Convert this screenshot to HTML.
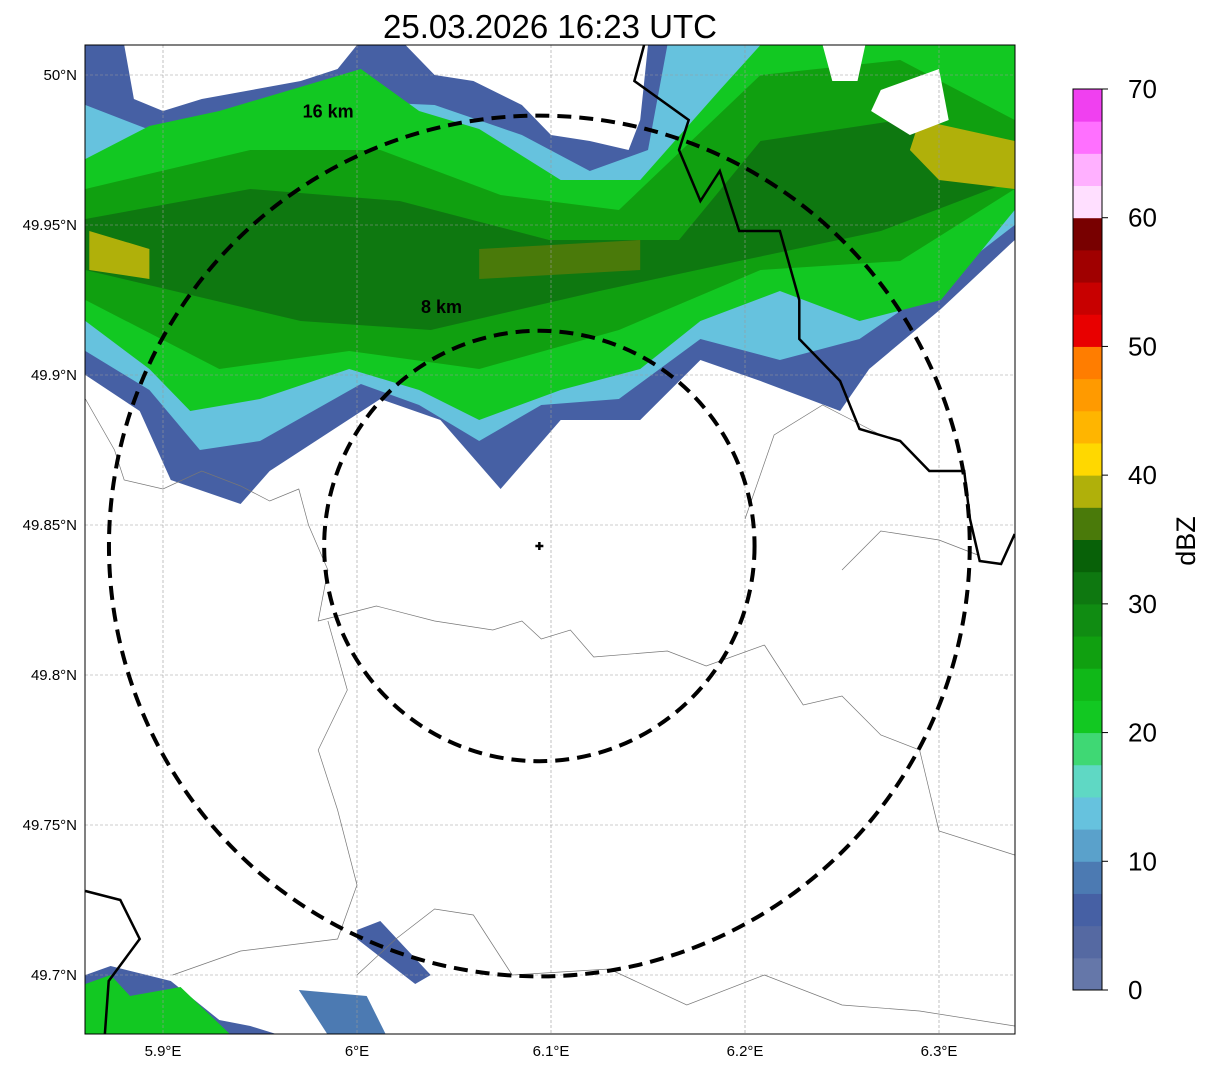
<!DOCTYPE html>
<html><head><meta charset="utf-8"><style>
body{margin:0;background:#fff;font-family:"Liberation Sans",sans-serif}
svg text{font-family:"Liberation Sans",sans-serif}
</style></head><body>
<svg id="s" width="1207" height="1069" xmlns="http://www.w3.org/2000/svg">
<defs><clipPath id="mc"><rect x="85" y="45" width="930" height="989"/></clipPath></defs>
<text x="550" y="38" font-size="33" text-anchor="middle">25.03.2026 16:23 UTC</text>
<g id="map" clip-path="url(#mc)"></g>
<rect x="85" y="45" width="930" height="989" fill="none" stroke="#000" stroke-width="1"/>
<g id="axes"></g>
<g id="cbar"></g>
<text transform="translate(1195,541) rotate(-90)" font-size="27" text-anchor="middle">dBZ</text>
</svg>
<script>
const lonTicks=[5.9,6.0,6.1,6.2,6.3];
const lonLabels=["5.9°E","6°E","6.1°E","6.2°E","6.3°E"];
const latTicks=[50.0,49.95,49.9,49.85,49.8,49.75,49.7];
const latLabels=["50°N","49.95°N","49.9°N","49.85°N","49.8°N","49.75°N","49.7°N"];
const cbTicks=[0,10,20,30,40,50,60,70];
const cbColors=["#6577a9","#5569a2","#4660a4","#4c7ab2","#5aa1cb","#66c2de","#5fd8c4","#3fd874","#12c822","#10b818","#10a010","#108c12","#0e7810","#086108","#4a7a0a","#b0b00a","#ffd800","#ffb500","#ff9a00","#ff7d00","#e80000","#c80000","#a00000","#780000","#ffdfff","#ffb0ff","#ff70ff","#f040f0"];
const echoLevels=[7,13,22,27,32];
const echoOuter=[[5.860,50.010],[5.880,50.010],[5.885,49.992],[5.900,49.988],[5.920,49.992],[5.971,49.998],[5.990,50.002],[6.000,50.010],[6.025,50.010],[6.040,50.000],[6.060,49.998],[6.085,49.990],[6.100,49.980],[6.120,49.978],[6.140,49.975],[6.146,49.985],[6.150,50.010],[6.339,50.010],[6.339,49.945],[6.301,49.922],[6.264,49.902],[6.249,49.888],[6.208,49.898],[6.177,49.905],[6.146,49.885],[6.105,49.885],[6.074,49.862],[6.043,49.885],[6.012,49.892],[5.955,49.868],[5.940,49.857],[5.904,49.865],[5.888,49.888],[5.860,49.900]];
const echoLight=[[5.860,49.990],[5.900,49.980],[5.971,49.992],[6.040,49.990],[6.085,49.980],[6.120,49.968],[6.150,49.975],[6.160,50.010],[6.339,50.010],[6.339,49.950],[6.295,49.928],[6.259,49.912],[6.218,49.905],[6.177,49.912],[6.135,49.892],[6.095,49.890],[6.063,49.878],[6.032,49.890],[6.002,49.897],[5.950,49.878],[5.919,49.875],[5.893,49.895],[5.860,49.908]];
const echoGreen=[[5.860,49.972],[5.893,49.983],[5.929,49.988],[6.002,50.002],[6.032,49.988],[6.063,49.982],[6.105,49.965],[6.146,49.965],[6.187,49.995],[6.208,50.010],[6.339,50.010],[6.339,49.955],[6.301,49.925],[6.259,49.918],[6.218,49.928],[6.177,49.918],[6.146,49.902],[6.105,49.895],[6.063,49.885],[6.032,49.895],[5.996,49.902],[5.950,49.892],[5.914,49.888],[5.893,49.902],[5.860,49.918]];
const echoMid=[[5.860,49.962],[5.945,49.975],[6.012,49.975],[6.074,49.960],[6.135,49.955],[6.208,50.000],[6.280,50.005],[6.339,49.985],[6.339,49.962],[6.280,49.938],[6.208,49.935],[6.135,49.915],[6.063,49.902],[5.996,49.908],[5.929,49.902],[5.860,49.925]];
const echoDark=[[5.860,49.952],[5.945,49.962],[6.022,49.958],[6.099,49.945],[6.166,49.945],[6.208,49.978],[6.280,49.985],[6.339,49.972],[6.339,49.965],[6.270,49.948],[6.197,49.938],[6.125,49.928],[6.038,49.915],[5.971,49.918],[5.860,49.935]];
const echoOlive=[[6.063,49.942],[6.146,49.945],[6.146,49.935],[6.063,49.932]];
const echoYellowE=[[6.290,49.985],[6.339,49.978],[6.339,49.962],[6.300,49.965],[6.285,49.975]];
const echoYellowW=[[5.862,49.948],[5.893,49.942],[5.893,49.932],[5.862,49.935]];
const holes=[[[6.270,49.995],[6.300,50.002],[6.305,49.985],[6.285,49.980],[6.265,49.988]],[[6.240,50.010],[6.262,50.010],[6.258,49.998],[6.245,49.998]]];
const swBlue=[[5.860,49.700],[5.873,49.703],[5.904,49.698],[5.929,49.685],[5.945,49.683],[5.960,49.680],[5.860,49.680]];
const swGreen=[[5.860,49.697],[5.873,49.700],[5.883,49.693],[5.909,49.696],[5.935,49.680],[5.860,49.680]];
const swBlob=[[6.000,49.715],[6.012,49.718],[6.038,49.700],[6.030,49.697],[6.000,49.712]];
const swBlob2=[[5.970,49.695],[6.005,49.693],[6.015,49.680],[5.985,49.680]];
const borderN=[[6.148,50.010],[6.143,49.998],[6.171,49.985],[6.166,49.975],[6.177,49.958],[6.187,49.968],[6.197,49.948],[6.218,49.948],[6.228,49.925],[6.228,49.912],[6.249,49.898],[6.259,49.882],[6.280,49.878],[6.295,49.868],[6.313,49.868],[6.316,49.852],[6.321,49.838],[6.332,49.837],[6.339,49.847]];
const borderSW=[[5.860,49.728],[5.878,49.725],[5.888,49.712],[5.872,49.698],[5.870,49.680]];
const thin=[[[5.860,49.892],[5.875,49.875],[5.880,49.865],[5.900,49.862],[5.920,49.868],[5.940,49.863],[5.955,49.858],[5.970,49.862],[5.975,49.850],[5.985,49.835],[5.980,49.818],[6.010,49.823],[6.040,49.818],[6.070,49.815],[6.085,49.818],[6.095,49.812],[6.110,49.815],[6.122,49.806],[6.160,49.808],[6.180,49.803],[6.210,49.810]],[[5.985,49.818],[5.995,49.795],[5.980,49.775],[5.990,49.755],[6.000,49.730],[5.990,49.712],[5.940,49.708],[5.905,49.700]],[[6.210,49.810],[6.230,49.790],[6.250,49.793],[6.270,49.780],[6.290,49.775],[6.300,49.748],[6.339,49.740]],[[6.250,49.835],[6.270,49.848],[6.300,49.845],[6.320,49.840]],[[6.000,49.700],[6.020,49.712],[6.040,49.722],[6.060,49.720],[6.080,49.700],[6.130,49.702],[6.170,49.690],[6.210,49.700],[6.250,49.690],[6.290,49.688],[6.339,49.683]],[[6.200,49.852],[6.215,49.880],[6.240,49.890],[6.270,49.880]]];
const center=[6.094,49.843];
const ringsKm=[8,16];

const X=lon=>163+(lon-5.9)*1940;
const Y=lat=>75+(50-lat)*3000;
const NS="http://www.w3.org/2000/svg";
const map=document.getElementById('map'),axes=document.getElementById('axes'),cbar=document.getElementById('cbar');
function mk(t,a,p){const e=document.createElementNS(NS,t);for(const k in a)e.setAttribute(k,a[k]);p.appendChild(e);return e;}
function col(d){return cbColors[Math.min(27,Math.floor(d/2.5))];}
function pts(a){return a.map(p=>X(p[0]).toFixed(1)+','+Y(p[1]).toFixed(1)).join(' ');}
function poly(a,fill,name){const e=mk('polygon',{points:pts(a),fill:fill},map);

}
const layers=[echoOuter,echoLight,echoGreen,echoMid,echoDark];
layers.forEach((l,i)=>poly(l,col(echoLevels[i]),'echo-layer-'+echoLevels[i]));
poly(echoOlive,col(36),'echo-olive');
poly(echoYellowE,col(38),'echo-yellow-east');
poly(echoYellowW,col(38),'echo-yellow-west');
holes.forEach(h=>poly(h,'#fff','echo-gap'));
poly(swBlue,col(7),'echo-sw-blue');
poly(swGreen,col(22),'echo-sw-green');
poly(swBlob,col(6),'echo-sw-blob');
poly(swBlob2,col(8),'echo-sw-blob2');
lonTicks.forEach(v=>{const l=mk('line',{x1:X(v),x2:X(v),y1:45,y2:1034,stroke:'#999','stroke-width':0.6,'stroke-dasharray':'3,2'},map);

});
latTicks.forEach(v=>{const l=mk('line',{x1:85,x2:1015,y1:Y(v),y2:Y(v),stroke:'#999','stroke-width':0.6,'stroke-dasharray':'3,2'},map);

});
thin.forEach(t=>{const e=mk('polyline',{points:pts(t),fill:'none',stroke:'#777','stroke-width':0.7},map);

});
[borderN,borderSW].forEach(b=>{const e=mk('polyline',{points:pts(b),fill:'none',stroke:'#000','stroke-width':2.5},map);

});
const cx=X(center[0]),cy=Y(center[1]);
ringsKm.forEach(k=>{const r=k*26.9;const c=mk('circle',{cx:cx,cy:cy,r:r,fill:'none',stroke:'#000','stroke-width':4,'stroke-dasharray':'14,8'},map);


const t=mk('text',{x:cx-r*0.55,y:cy-r+(k===16?2:-18),'font-size':18,'font-weight':'bold'},map);t.textContent=k+' km';

});
const cr=mk('path',{d:`M${cx-4},${cy}H${cx+4}M${cx},${cy-4}V${cy+4}`,stroke:'#000','stroke-width':2.5},map);


lonTicks.forEach((v,i)=>{const t=mk('text',{x:X(v),y:1056,'font-size':15,'text-anchor':'middle'},axes);t.textContent=lonLabels[i];

});
latTicks.forEach((v,i)=>{const t=mk('text',{x:77,y:Y(v)+5,'font-size':15,'text-anchor':'end'},axes);t.textContent=latLabels[i];

});
const cbY=d=>990-d*(901/70);
cbColors.forEach((c,i)=>{const r=mk('rect',{x:1073,y:cbY((i+1)*2.5),width:29,height:901/28+0.5,fill:c},cbar);

});
mk('rect',{x:1073,y:89,width:29,height:901,fill:'none',stroke:'#000','stroke-width':1},cbar);
cbTicks.forEach(v=>{mk('line',{x1:1102,x2:1108,y1:cbY(v),y2:cbY(v),stroke:'#000'},cbar);
const t=mk('text',{x:1128,y:cbY(v)+9,'font-size':26},cbar);t.textContent=v;

});
</script>
</body></html>
